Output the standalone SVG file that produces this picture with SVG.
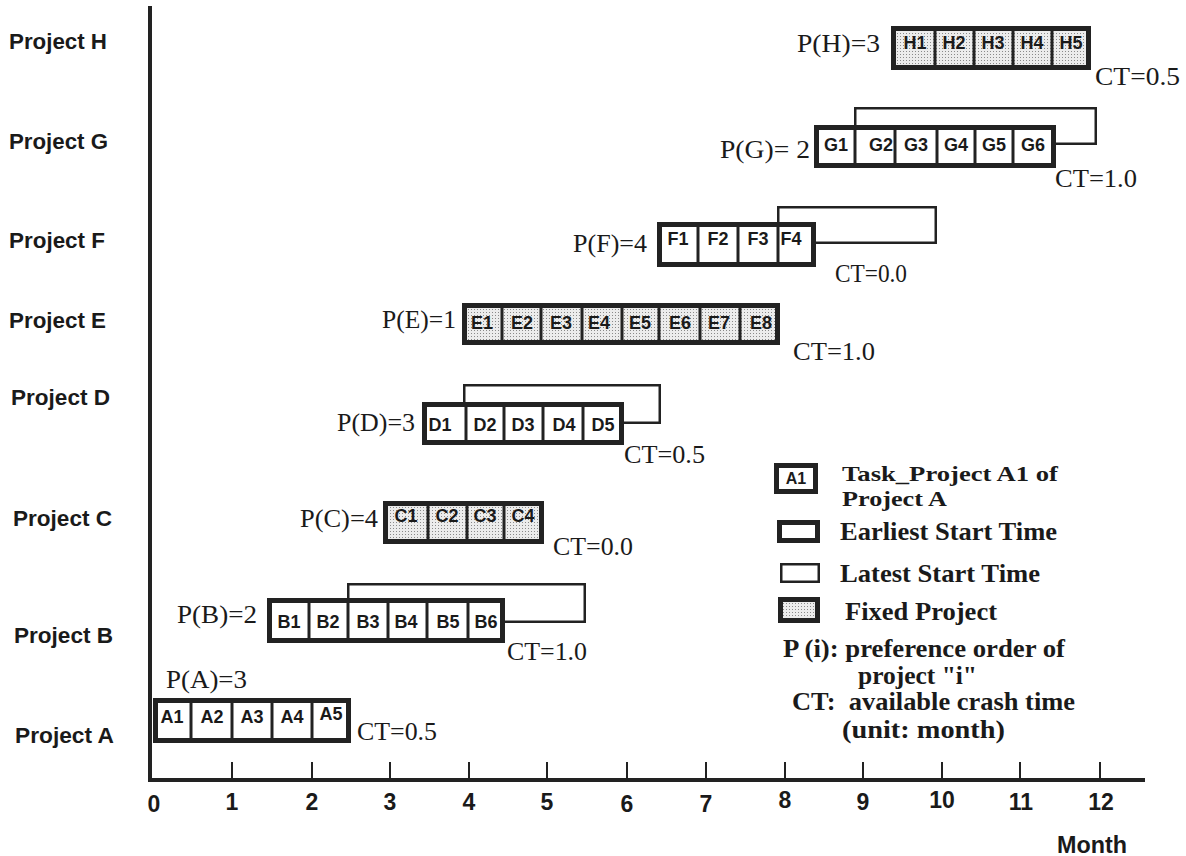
<svg xmlns="http://www.w3.org/2000/svg" width="1186" height="856" viewBox="0 0 1186 856">
<defs>
<pattern id="dots" width="3" height="3" patternUnits="userSpaceOnUse">
<rect width="3" height="3" fill="#ececec"/>
<rect width="1" height="1" fill="#8a8a8a"/>
</pattern>
</defs>
<style>
.box{fill:#fff;stroke:#222;stroke-width:5}
.fix{fill:url(#dots);stroke:#222;stroke-width:5}
.div{stroke:#222;stroke-width:3}
.late{fill:none;stroke:#222;stroke-width:2.5}
.cell{font-family:"Liberation Sans",Arial,sans-serif;font-weight:bold;font-size:18px;fill:#1a1a1a;text-anchor:middle}
.ser{font-family:"Liberation Serif","Times New Roman",serif;font-size:25px;fill:#1a1a1a}
.leg{font-family:"Liberation Serif","Times New Roman",serif;font-size:25px;font-weight:bold;fill:#1a1a1a;white-space:pre}
.proj{font-family:"Liberation Sans",Arial,sans-serif;font-weight:bold;font-size:22px;fill:#1a1a1a}
.num{font-family:"Liberation Sans",Arial,sans-serif;font-weight:bold;font-size:23px;fill:#1a1a1a;text-anchor:middle}
.axis{stroke:#222;stroke-width:4;fill:none}
.tick{stroke:#222;stroke-width:2}
</style>
<rect width="1186" height="856" fill="#fff"/>

<g id="row-labels">
<text class="proj" x="9" y="49" textLength="98" lengthAdjust="spacingAndGlyphs">Project H</text>
<text class="proj" x="9" y="149" textLength="99" lengthAdjust="spacingAndGlyphs">Project G</text>
<text class="proj" x="9" y="248" textLength="96" lengthAdjust="spacingAndGlyphs">Project F</text>
<text class="proj" x="9" y="328" textLength="97" lengthAdjust="spacingAndGlyphs">Project E</text>
<text class="proj" x="11" y="405" textLength="99" lengthAdjust="spacingAndGlyphs">Project D</text>
<text class="proj" x="13" y="526" textLength="99" lengthAdjust="spacingAndGlyphs">Project C</text>
<text class="proj" x="14" y="643" textLength="99" lengthAdjust="spacingAndGlyphs">Project B</text>
<text class="proj" x="15" y="743" textLength="99" lengthAdjust="spacingAndGlyphs">Project A</text>
</g>

<g id="axes">
<line class="axis" x1="150" y1="6" x2="150" y2="782"/>
<line class="axis" x1="148" y1="780" x2="1145" y2="780"/>
<line class="tick" x1="232" y1="762" x2="232" y2="780"/>
<line class="tick" x1="312" y1="762" x2="312" y2="780"/>
<line class="tick" x1="390" y1="762" x2="390" y2="780"/>
<line class="tick" x1="469" y1="762" x2="469" y2="780"/>
<line class="tick" x1="547" y1="762" x2="547" y2="780"/>
<line class="tick" x1="627" y1="762" x2="627" y2="780"/>
<line class="tick" x1="706" y1="762" x2="706" y2="780"/>
<line class="tick" x1="785" y1="762" x2="785" y2="780"/>
<line class="tick" x1="863" y1="762" x2="863" y2="780"/>
<line class="tick" x1="942" y1="762" x2="942" y2="780"/>
<line class="tick" x1="1020" y1="762" x2="1020" y2="780"/>
<line class="tick" x1="1100" y1="762" x2="1100" y2="780"/>
<text class="num" x="154" y="812">0</text>
<text class="num" x="232" y="810">1</text>
<text class="num" x="312" y="810">2</text>
<text class="num" x="390" y="810">3</text>
<text class="num" x="469" y="810">4</text>
<text class="num" x="547" y="810">5</text>
<text class="num" x="627" y="812">6</text>
<text class="num" x="706" y="812">7</text>
<text class="num" x="785" y="808">8</text>
<text class="num" x="863" y="810">9</text>
<text class="num" x="942" y="808">10</text>
<text class="num" x="1021" y="810">11</text>
<text class="num" x="1101" y="810">12</text>
<text class="proj" x="1057" y="853" style="font-size:23px" textLength="70" lengthAdjust="spacingAndGlyphs">Month</text>
</g>

<g id="project-H">
<rect class="fix" x="893.5" y="28.5" width="195" height="39"/>
<line class="div" x1="935" y1="26" x2="935" y2="70"/>
<line class="div" x1="974" y1="26" x2="974" y2="70"/>
<line class="div" x1="1013" y1="26" x2="1013" y2="70"/>
<line class="div" x1="1052" y1="26" x2="1052" y2="70"/>
<text class="cell" x="915" y="49">H1</text>
<text class="cell" x="954" y="49">H2</text>
<text class="cell" x="993" y="49">H3</text>
<text class="cell" x="1032" y="49">H4</text>
<text class="cell" x="1071" y="49">H5</text>
<text class="ser" x="797" y="52" textLength="83" lengthAdjust="spacingAndGlyphs">P(H)=3</text>
<text class="ser" x="1095" y="85" textLength="85" lengthAdjust="spacingAndGlyphs">CT=0.5</text>
</g>

<g id="project-G">
<rect class="late" x="855.25" y="108.25" width="240.5" height="35.5"/>
<rect class="box" x="816.5" y="127.5" width="237" height="38"/>
<line class="div" x1="855" y1="125" x2="855" y2="168"/>
<line class="div" x1="895" y1="125" x2="895" y2="168"/>
<line class="div" x1="937" y1="125" x2="937" y2="168"/>
<line class="div" x1="975" y1="125" x2="975" y2="168"/>
<line class="div" x1="1013" y1="125" x2="1013" y2="168"/>
<text class="cell" x="836" y="151">G1</text>
<text class="cell" x="881" y="151">G2</text>
<text class="cell" x="916" y="151">G3</text>
<text class="cell" x="956" y="151">G4</text>
<text class="cell" x="994" y="151">G5</text>
<text class="cell" x="1033" y="151">G6</text>
<text class="ser" x="720" y="158" textLength="90" lengthAdjust="spacingAndGlyphs">P(G)= 2</text>
<text class="ser" x="1055" y="187" textLength="82" lengthAdjust="spacingAndGlyphs">CT=1.0</text>
</g>

<g id="project-F">
<rect class="late" x="778.25" y="207.25" width="157.5" height="35.5"/>
<rect class="box" x="659.5" y="224.5" width="154" height="40"/>
<line class="div" x1="698" y1="222" x2="698" y2="267"/>
<line class="div" x1="738" y1="222" x2="738" y2="267"/>
<line class="div" x1="778" y1="222" x2="778" y2="267"/>
<text class="cell" x="678" y="245">F1</text>
<text class="cell" x="718" y="245">F2</text>
<text class="cell" x="758" y="245">F3</text>
<text class="cell" x="791" y="245">F4</text>
<text class="ser" x="573" y="252" textLength="74" lengthAdjust="spacingAndGlyphs">P(F)=4</text>
<text class="ser" x="835" y="282" textLength="72" lengthAdjust="spacingAndGlyphs">CT=0.0</text>
</g>

<g id="project-E">
<rect class="fix" x="464.5" y="305.5" width="313" height="37"/>
<line class="div" x1="502" y1="303" x2="502" y2="345"/>
<line class="div" x1="541" y1="303" x2="541" y2="345"/>
<line class="div" x1="582" y1="303" x2="582" y2="345"/>
<line class="div" x1="622" y1="303" x2="622" y2="345"/>
<line class="div" x1="659" y1="303" x2="659" y2="345"/>
<line class="div" x1="700" y1="303" x2="700" y2="345"/>
<line class="div" x1="740" y1="303" x2="740" y2="345"/>
<text class="cell" x="482" y="329">E1</text>
<text class="cell" x="522" y="329">E2</text>
<text class="cell" x="561" y="329">E3</text>
<text class="cell" x="599" y="329">E4</text>
<text class="cell" x="640" y="329">E5</text>
<text class="cell" x="680" y="329">E6</text>
<text class="cell" x="719" y="329">E7</text>
<text class="cell" x="761" y="329">E8</text>
<text class="ser" x="382" y="328" textLength="74" lengthAdjust="spacingAndGlyphs">P(E)=1</text>
<text class="ser" x="793" y="360" textLength="82" lengthAdjust="spacingAndGlyphs">CT=1.0</text>
</g>

<g id="project-D">
<rect class="late" x="464.25" y="385.25" width="195.5" height="37.5"/>
<rect class="box" x="424.5" y="404.5" width="197" height="38"/>
<line class="div" x1="466" y1="402" x2="466" y2="445"/>
<line class="div" x1="504" y1="402" x2="504" y2="445"/>
<line class="div" x1="543" y1="402" x2="543" y2="445"/>
<line class="div" x1="583" y1="402" x2="583" y2="445"/>
<text class="cell" x="440" y="431">D1</text>
<text class="cell" x="485" y="431">D2</text>
<text class="cell" x="523" y="431">D3</text>
<text class="cell" x="564" y="431">D4</text>
<text class="cell" x="603" y="431">D5</text>
<text class="ser" x="337" y="431" textLength="78" lengthAdjust="spacingAndGlyphs">P(D)=3</text>
<text class="ser" x="624" y="463" textLength="81" lengthAdjust="spacingAndGlyphs">CT=0.5</text>
</g>

<g id="project-C">
<rect class="fix" x="385.5" y="503.5" width="156" height="38"/>
<line class="div" x1="428" y1="501" x2="428" y2="544"/>
<line class="div" x1="467" y1="501" x2="467" y2="544"/>
<line class="div" x1="504" y1="501" x2="504" y2="544"/>
<text class="cell" x="406" y="522">C1</text>
<text class="cell" x="447" y="522">C2</text>
<text class="cell" x="485" y="522">C3</text>
<text class="cell" x="523" y="522">C4</text>
<text class="ser" x="300" y="527" textLength="78" lengthAdjust="spacingAndGlyphs">P(C)=4</text>
<text class="ser" x="553" y="555" textLength="80" lengthAdjust="spacingAndGlyphs">CT=0.0</text>
</g>

<g id="project-B">
<rect class="late" x="348.25" y="584.25" width="236.5" height="37.5"/>
<rect class="box" x="269.5" y="600.5" width="233" height="40"/>
<line class="div" x1="309" y1="598" x2="309" y2="643"/>
<line class="div" x1="348" y1="598" x2="348" y2="643"/>
<line class="div" x1="388" y1="598" x2="388" y2="643"/>
<line class="div" x1="427" y1="598" x2="427" y2="643"/>
<line class="div" x1="468" y1="598" x2="468" y2="643"/>
<text class="cell" x="289" y="628">B1</text>
<text class="cell" x="328" y="628">B2</text>
<text class="cell" x="368" y="628">B3</text>
<text class="cell" x="406" y="628">B4</text>
<text class="cell" x="448" y="628">B5</text>
<text class="cell" x="486" y="628">B6</text>
<text class="ser" x="177" y="623" textLength="80" lengthAdjust="spacingAndGlyphs">P(B)=2</text>
<text class="ser" x="507" y="660" textLength="80" lengthAdjust="spacingAndGlyphs">CT=1.0</text>
</g>

<g id="project-A">
<rect class="box" x="155.5" y="700.5" width="193" height="40"/>
<line class="div" x1="191" y1="698" x2="191" y2="743"/>
<line class="div" x1="232" y1="698" x2="232" y2="743"/>
<line class="div" x1="272" y1="698" x2="272" y2="743"/>
<line class="div" x1="312" y1="698" x2="312" y2="743"/>
<text class="cell" x="172" y="723">A1</text>
<text class="cell" x="212" y="723">A2</text>
<text class="cell" x="252" y="723">A3</text>
<text class="cell" x="292" y="723">A4</text>
<text class="cell" x="331" y="720">A5</text>
<text class="ser" x="166" y="688" textLength="81" lengthAdjust="spacingAndGlyphs">P(A)=3</text>
<text class="ser" x="357" y="740" textLength="80" lengthAdjust="spacingAndGlyphs">CT=0.5</text>
</g>

<g id="legend">
<rect class="box" x="776.5" y="465.5" width="39" height="26"/>
<text class="cell" x="796" y="484" style="font-size:16px">A1</text>
<text class="leg" x="842" y="481" style="font-size:22px" textLength="216" lengthAdjust="spacingAndGlyphs">Task_Project A1 of</text>
<text class="leg" x="842" y="506" style="font-size:22px" textLength="105" lengthAdjust="spacingAndGlyphs">Project A</text>
<rect class="box" x="779.5" y="522.5" width="38" height="18"/>
<text class="leg" x="840" y="540" textLength="217" lengthAdjust="spacingAndGlyphs">Earliest Start Time</text>
<rect class="late" x="781.25" y="564.25" width="37.5" height="17.5"/>
<text class="leg" x="840" y="582" textLength="200" lengthAdjust="spacingAndGlyphs">Latest Start Time</text>
<rect class="fix" x="780.5" y="599.5" width="37" height="21"/>
<text class="leg" x="845" y="620" textLength="152" lengthAdjust="spacingAndGlyphs">Fixed Project</text>
<text class="leg" x="783" y="657" textLength="282" lengthAdjust="spacingAndGlyphs">P (i): preference order of</text>
<text class="leg" x="858" y="684" textLength="119" lengthAdjust="spacingAndGlyphs">project "i"</text>
<text class="leg" x="792" y="710" textLength="283" lengthAdjust="spacingAndGlyphs">CT:  available crash time</text>
<text class="leg" x="842" y="738" textLength="163" lengthAdjust="spacingAndGlyphs">(unit: month)</text>
</g>
</svg>
